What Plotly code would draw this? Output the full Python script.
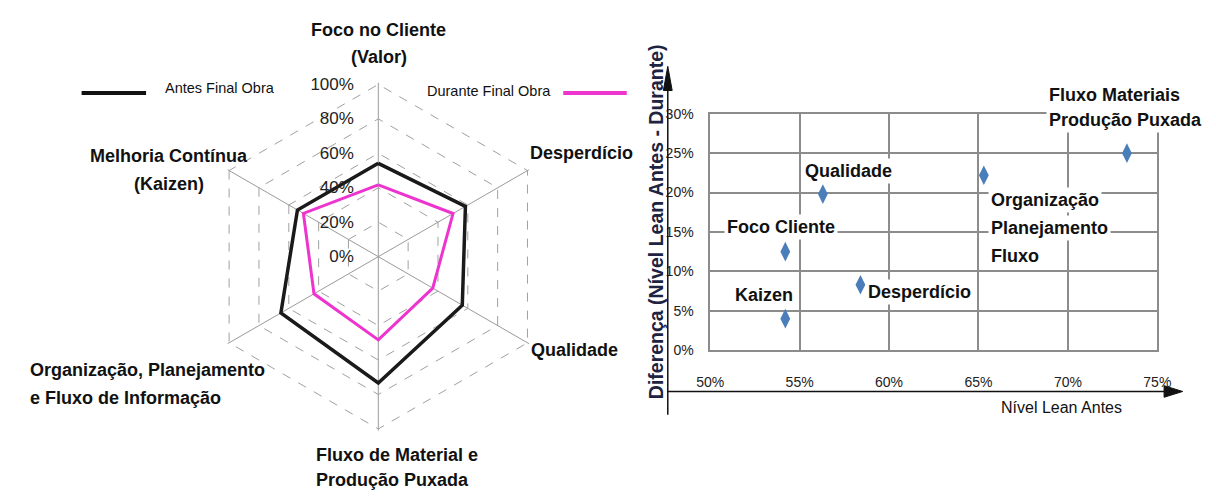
import plotly.graph_objects as go

W, H = 1216, 496
OFF = 8  # page body margin offset in the browser

# ---------------- data ----------------
radar_categories = [
    "Foco no Cliente<br>(Valor)",
    "Desperdício",
    "Qualidade",
    "Fluxo de Material e<br>Produção Puxada",
    "Organização, Planejamento<br>e Fluxo de Informação",
    "Melhoria Contínua<br>(Kaizen)",
]
antes_final_obra = [54.2, 58.4, 56.3, 73.3, 65.3, 54.2]
durante_final_obra = [41.7, 50.1, 36.5, 48.3, 43.1, 50.2]
radial_ticks = [0, 20, 40, 60, 80, 100]
series_names = ["Antes Final Obra", "Durante Final Obra"]

scatter_labels = [
    "Foco Cliente",
    "Kaizen",
    "Qualidade",
    "Desperdício",
    "Organização<br>Planejamento<br>Fluxo",
    "Fluxo Materiais<br>Produção Puxada",
]
nivel_lean_antes = [54.2, 54.2, 56.3, 58.4, 65.3, 73.3]
diferenca = [12.5, 4.0, 19.8, 8.3, 22.2, 25.0]
x_ticks = [50, 55, 60, 65, 70, 75]
y_ticks = [0, 5, 10, 15, 20, 25, 30]
x_title = "Nível Lean Antes"
y_title = "Diferença (Nível Lean Antes - Durante)"

# ---------------- style helpers ----------------
def px(x):
    return (x - OFF) / W

def py(y):
    return (H - (y - OFF)) / H

BOLD = "Liberation Sans, Arial, sans-serif"
REG = "Liberation Sans, Arial, sans-serif"
MAGENTA = "#EE34CF"
TXT = "#111111"

fig = go.Figure()

# ---------------- radar ----------------
fig.add_trace(go.Scatterpolar(
    r=antes_final_obra + antes_final_obra[:1],
    theta=radar_categories + radar_categories[:1],
    mode="lines", name=series_names[0],
    line=dict(color="#1a1a1a", width=3.5), showlegend=False,
))
fig.add_trace(go.Scatterpolar(
    r=durante_final_obra + durante_final_obra[:1],
    theta=radar_categories + radar_categories[:1],
    mode="lines", name=series_names[1],
    line=dict(color=MAGENTA, width=3), showlegend=False,
))

r_max = 101.0
cx, cy, rad = 372.7, 256.7, 178 * r_max / 100
fig.update_layout(polar=dict(
    domain=dict(x=[px(cx - rad), px(cx + rad)], y=[py(cy + rad), py(cy - rad)]),
    gridshape="linear",
    bgcolor="white",
    angularaxis=dict(
        categoryorder="array", categoryarray=radar_categories,
        rotation=90, direction="clockwise",
        showticklabels=False, ticks="",
        showgrid=True, gridcolor="#9a9a9a", gridwidth=1,
        showline=False,
    ),
    radialaxis=dict(
        range=[0, r_max], tickmode="array", tickvals=radial_ticks,
        ticktext=[f"{v}%" for v in radial_ticks],
        angle=90, tickangle=90, side="counterclockwise",
        showline=False, showgrid=True, gridcolor="#a0a0a0", gridwidth=1, griddash="dash",
        ticks="outside", ticklen=18, tickcolor="rgba(0,0,0,0)",
        tickfont=dict(size=17, color="#222", family=REG),
    ),
))


def add_text_lines(text, x, y, dy, xanchor, font, **kw):
    """Place each line of a multi-line label as its own annotation (paper coords, pixels)."""
    for i, line in enumerate(text.split("<br>")):
        fig.add_annotation(x=px(x), y=py(y + i * dy), xref="paper", yref="paper",
                           text=line, showarrow=False, xanchor=xanchor, yanchor="middle",
                           font=font, **kw)


# category labels around the hexagon: (x, first-line y, line spacing, anchor)
cat_pos = [
    (373, 22, 28, "center"),
    (526, 149.5, 28, "left"),
    (527, 353.5, 28, "left"),
    (307, 461.5, 25.5, "left"),
    (14, 373.5, 29, "left"),
    (158, 152.5, 29, "center"),
]
cat_font = dict(size=18, family=BOLD, color=TXT, weight="bold")
for label, (x, y, dy, xa) in zip(radar_categories, cat_pos):
    add_text_lines(label, x, y, dy, xa, cat_font)

# legend built from shapes + text
fig.add_shape(type="line", xref="paper", yref="paper", x0=px(69), x1=px(135), y0=py(87.5), y1=py(87.5),
              line=dict(color="#111", width=4))
fig.add_annotation(x=px(152), y=py(82.5), xref="paper", yref="paper", text=series_names[0], showarrow=False,
                   xanchor="left", yanchor="middle", font=dict(size=14.5, family=REG, color=TXT))
fig.add_annotation(x=px(420), y=py(85), xref="paper", yref="paper", text=series_names[1], showarrow=False,
                   xanchor="left", yanchor="middle", font=dict(size=14.5, family=REG, color=TXT))
fig.add_shape(type="line", xref="paper", yref="paper", x0=px(562), x1=px(627), y0=py(87.5), y1=py(87.5),
              line=dict(color=MAGENTA, width=4))

# ---------------- scatter ----------------
fig.add_trace(go.Scatter(
    x=nivel_lean_antes, y=diferenca, mode="markers",
    marker=dict(symbol="diamond-tall", size=14, color="#4A7EBB"),
    showlegend=False, xaxis="x", yaxis="y",
))

grid_c = "#8c8c8c"
fig.update_layout(
    xaxis=dict(domain=[px(712.4), px(1170.1)], range=[50, 75], tickmode="array", tickvals=x_ticks,
               ticktext=[f"{v}%" for v in x_ticks],
               showgrid=True, gridcolor=grid_c, gridwidth=1.5, zeroline=False,
               showline=True, mirror=True, linecolor=grid_c, linewidth=1.5,
               ticks="", ticklabelstandoff=18, anchor="y",
               tickfont=dict(size=14, family=REG, color="#222")),
    yaxis=dict(domain=[py(353.3), py(109)], range=[0, 30], tickmode="array", tickvals=y_ticks,
               ticktext=[f"{v}%" for v in y_ticks],
               showgrid=True, gridcolor=grid_c, gridwidth=1.5, zeroline=False,
               showline=True, mirror=True, linecolor=grid_c, linewidth=1.5,
               ticks="", ticklabelstandoff=12, anchor="x",
               tickfont=dict(size=14, family=REG, color="#222")),
)

# label offsets from their point (pixels): anchor, xshift, yshift of first line, line spacing
label_style = {
    "Foco Cliente": ("center", -4, 25, 28),
    "Kaizen": ("center", -21, 24, 28),
    "Qualidade": ("center", 26, 23, 28),
    "Desperdício": ("left", 5, -7, 28),
    "Organização<br>Planejamento<br>Fluxo": ("left", 4, -24.5, 28.3),
    "Fluxo Materiais<br>Produção Puxada": ("left", -81, 58.3, 25.6),
}
lab_font = dict(size=18, family=BOLD, color=TXT, weight="bold")
for lab, xv, yv in zip(scatter_labels, nivel_lean_antes, diferenca):
    xa, xs, ys, dy = label_style[lab]
    for i, line in enumerate(lab.split("<br>")):
        fig.add_annotation(x=xv, y=yv, xref="x", yref="y", text=line, showarrow=False,
                           xanchor=xa, yanchor="middle", xshift=xs, yshift=ys - i * dy,
                           bgcolor="white", borderpad=2, font=lab_font)

# axis arrows (decorative)
fig.add_shape(type="line", xref="paper", yref="paper", x0=px(669), x1=px(669), y0=py(420), y1=py(70),
              line=dict(color="#111", width=1.5))
fig.add_shape(type="path", xref="paper", yref="paper",
              path=f"M {px(669)} {py(60)} L {px(664.5)} {py(85)} L {px(673.5)} {py(85)} Z",
              fillcolor="#111", line=dict(color="#111", width=1))
fig.add_shape(type="line", xref="paper", yref="paper", x0=px(669), x1=px(1182), y0=py(396), y1=py(396),
              line=dict(color="#111", width=1.5))
fig.add_shape(type="path", xref="paper", yref="paper",
              path=f"M {px(1196)} {py(396)} L {px(1177)} {py(390)} L {px(1177)} {py(402)} Z",
              fillcolor="#111", line=dict(color="#111", width=1))

fig.add_annotation(x=px(657), y=py(221), xref="paper", yref="paper", text=f"<b>{y_title}</b>",
                   textangle=-90, showarrow=False, xanchor="center", yanchor="middle",
                   font=dict(size=19.5, family=BOLD, color="#1d2340"))
fig.add_annotation(x=px(1072), y=py(413), xref="paper", yref="paper", text=x_title,
                   showarrow=False, xanchor="center", yanchor="middle",
                   font=dict(size=16, family=REG, color=TXT))

fig.update_layout(
    width=W, height=H, margin=dict(l=0, r=0, t=0, b=0),
    paper_bgcolor="white", plot_bgcolor="white", showlegend=False,
)

fig.write_html("out.html")
